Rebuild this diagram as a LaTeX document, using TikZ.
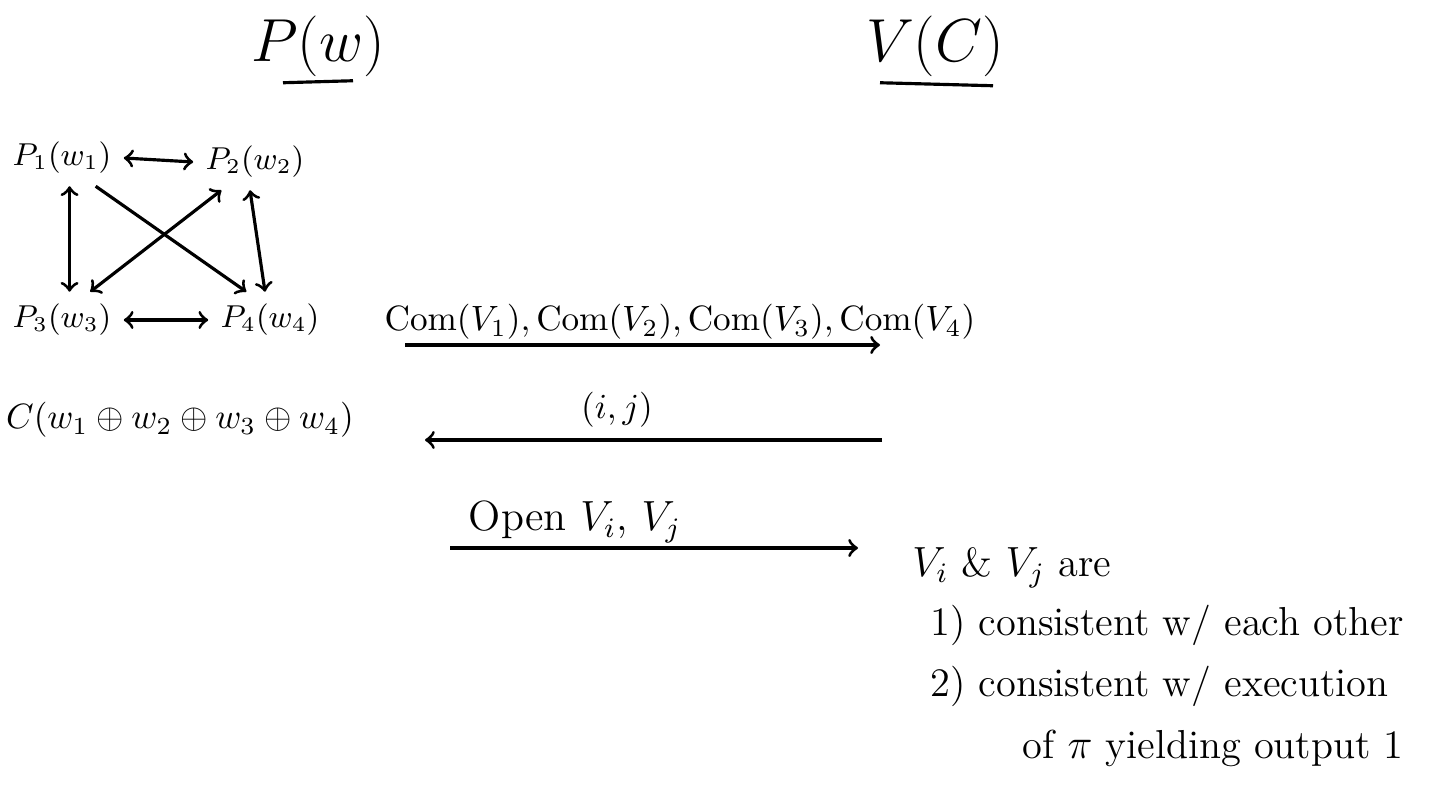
\documentclass[tikz,border=0pt]{standalone}
\usepackage{tikz}
\usepackage{mathtools}

\begin{document}
\begin{tikzpicture}[x=0.01cm, y=-0.01cm,
	arr/.style={->, line width=0.9pt},
	dbl/.style={<->, line width=0.9pt},
	lbl/.style={font=\fontsize{10}{12}\selectfont},
	sml/.style={font=\fontsize{9}{11}\selectfont},
	txt/.style={font=\fontsize{11.5}{14}\selectfont, anchor=west},
	hd/.style={font=\fontsize{17}{20}\selectfont}]
	\useasboundingbox (0,0) rectangle (1434,804);
	% the two parties
	\node[hd] (prover) at (318,46) {$P(w)$};
	\node[hd] (verifier) at (935,46) {$V(C)$};
	\draw[line width=0.9pt] (prover.south) ++(-35,-6) -- ++(70,-2);
	\draw[line width=0.9pt] (verifier.south) ++(-55,-6) -- ++(113,3);
	% simulated parties
	\node[sml] (p1) at (62,158) {$P_1(w_1)$};
	\node[sml] (p2) at (255,162) {$P_2(w_2)$};
	\node[sml] (p3) at (62,320) {$P_3(w_3)$};
	\node[sml] (p4) at (270,320) {$P_4(w_4)$};
	\draw[dbl] (p1.east) -- (p2.west);
	\draw[dbl] (p3.east) -- (p4.west);
	\draw[dbl] (p1.-75) -- (p3.75);
	\draw[dbl] (p2.-100) -- (p4.100);
	\draw[arr] (p1.-40) -- (p4.130);
	\draw[dbl] (p2.-140) -- (p3.45);
	% commitments
	\node[lbl] (com) at (680,322) {$\mathrm{Com}(V_1), \mathrm{Com}(V_2), \mathrm{Com}(V_3), \mathrm{Com}(V_4)$};
	\coordinate (cs) at (405,345);
	\coordinate (ce) at (880,345);
	\draw[arr] (cs) -- (ce);
	% challenge
	\node[lbl] (xor) at (180,420) {$C(w_1 \oplus w_2 \oplus w_3 \oplus w_4)$};
	\node[lbl] (ij) at (617,410) {$(i,j)$};
	\coordinate (js) at (882,440);
	\coordinate (je) at (425,440);
	\draw[arr] (js) -- (je);
	% opening
	\node[font=\fontsize{12}{14}\selectfont] (open) at (575,522) {Open $V_i$, $V_j$};
	\coordinate (os) at (450,548);
	\coordinate (oe) at (858,548);
	\draw[arr] (os) -- (oe);
	% checks
	\node[txt] (are) at (900,568) {$V_i$ \& $V_j$ are};
	\node[txt] (c1) at (918,625) {1) consistent w/ each other};
	\node[txt] (c2) at (918,686) {2) consistent w/ execution};
	\node[txt] (c3) at (1010,748) {of $\pi$ yielding output 1};
\end{tikzpicture}
\end{document}
